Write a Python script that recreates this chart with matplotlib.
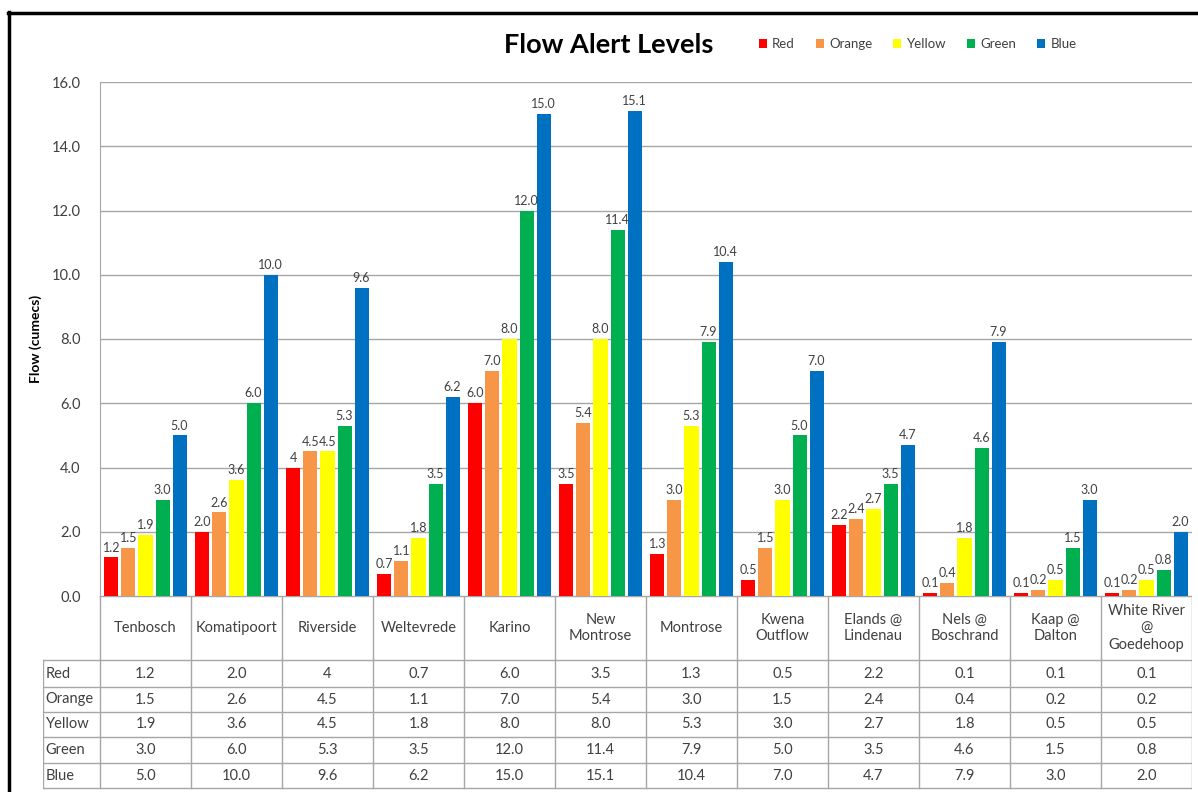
import matplotlib
matplotlib.use("Agg")
import matplotlib.pyplot as plt
from matplotlib.lines import Line2D
import numpy as np

plt.rcParams['font.family'] = ['Lato', 'DejaVu Sans']

# stations along the x axis
stations = ["Tenbosch", "Komatipoort", "Riverside", "Weltevrede", "Karino",
            "New\nMontrose", "Montrose", "Kwena\nOutflow", "Elands @\nLindenau",
            "Nels @\nBoschrand", "Kaap @\nDalton", "White River\n@\nGoedehoop"]

# alert thresholds as they appear in the data table (cumecs)
red = ["1.2", "2.0", "4", "0.7", "6.0", "3.5", "1.3", "0.5", "2.2", "0.1", "0.1", "0.1"]
orange = ["1.5", "2.6", "4.5", "1.1", "7.0", "5.4", "3.0", "1.5", "2.4", "0.4", "0.2", "0.2"]
yellow = ["1.9", "3.6", "4.5", "1.8", "8.0", "8.0", "5.3", "3.0", "2.7", "1.8", "0.5", "0.5"]
green = ["3.0", "6.0", "5.3", "3.5", "12.0", "11.4", "7.9", "5.0", "3.5", "4.6", "1.5", "0.8"]
blue = ["5.0", "10.0", "9.6", "6.2", "15.0", "15.1", "10.4", "7.0", "4.7", "7.9", "3.0", "2.0"]

series_names = ["Red", "Orange", "Yellow", "Green", "Blue"]
series_text = [red, orange, yellow, green, blue]
colors = ["#ff0000", "#f79646", "#ffff00", "#00b050", "#0070c0"]

W, H = 1198, 792
fig = plt.figure(figsize=(W / 100, H / 100), dpi=100)

grid_col = "#a6a6a6"
text_col = "#404040"

# main bar axes
ax = fig.add_axes([100 / W, 1 - 596 / H, 1092 / W, 514 / H])
x = np.arange(len(stations))
step = 0.187
width = 0.154
handles = []
for k, (name, txt, col) in enumerate(zip(series_names, series_text, colors)):
    vals = [float(s) for s in txt]
    pos = x + (k - 2) * step
    bars = ax.bar(pos, vals, width=width, color=col, label=name, zorder=3)
    handles.append(bars)
    for p, v, s in zip(pos, vals, txt):
        ax.text(p, v + 0.12, s, ha="center", va="bottom", fontsize=9,
                color=text_col, zorder=4)

ax.set_xlim(-0.5, len(stations) - 0.5)
ax.set_ylim(0, 16)
ax.set_yticks(np.arange(0, 17, 2))
ax.set_yticklabels([f"{t:.1f}" for t in np.arange(0, 17, 2)], fontsize=10.5, color=text_col)
ax.tick_params(axis="y", length=0, pad=14)
ax.set_xticks([])
ax.yaxis.grid(True, color=grid_col, lw=1, zorder=0)
for side in ["top", "right", "bottom"]:
    ax.spines[side].set_visible(False)
ax.spines["left"].set_color(grid_col)
ax.set_ylabel("Flow (cumecs)", fontsize=10, fontweight="bold", labelpad=7)

# data table below the axis, sharing the category positions
left_px = 43
tab = fig.add_axes([left_px / W, 1 - 790 / H, (1192 - left_px) / W, 194 / H])
tab.set_xlim(-0.5 - (100 - left_px) / 91, len(stations) - 0.5)
tab.set_ylim(194, 0)
tab.axis("off")
row_lines = [0, 64, 91, 116, 141, 167, 192]
edges = np.arange(len(stations) + 1) - 0.5
x0 = tab.get_xlim()[0]
tab.plot([edges[0], edges[-1]], [0, 0], color=grid_col, lw=1)
for y in row_lines[1:]:
    tab.plot([x0, edges[-1]], [y, y], color=grid_col, lw=1)
for e in edges:
    tab.plot([e, e], [0, row_lines[-1]], color=grid_col, lw=1)
tab.plot([x0, x0], [row_lines[1], row_lines[-1]], color=grid_col, lw=1)

for i, s in enumerate(stations):
    tab.text(i, 32, s, ha="center", va="center", fontsize=10.5, color=text_col,
             linespacing=1.25)
for r, (name, txt) in enumerate(zip(series_names, series_text)):
    yc = (row_lines[r + 1] + row_lines[r + 2]) / 2
    tab.text(x0 + 0.03, yc, name, ha="left", va="center", fontsize=10.5, color=text_col)
    for i, s in enumerate(txt):
        tab.text(i, yc, s, ha="center", va="center", fontsize=10.5, color=text_col)

# title and legend
fig.text(609 / W, 1 - 45 / H, "Flow Alert Levels", ha="center", va="center",
         fontsize=19.5, fontweight="bold", color="black")
fig.legend(handles=handles, labels=series_names, loc="center left",
           bbox_to_anchor=(747 / W, 1 - 44 / H), ncol=5, frameon=False,
           fontsize=9.5, handlelength=0.6, handleheight=0.6, handletextpad=0.4,
           columnspacing=1.6, labelcolor=text_col)

# outer frame (left and top edges)
fig.add_artist(Line2D([9 / W, 9 / W], [0, 1 - 12 / H], color="black", lw=2.5,
                      transform=fig.transFigure))
fig.add_artist(Line2D([8 / W, 1], [1 - 13 / H, 1 - 13 / H], color="black", lw=2.5,
                      transform=fig.transFigure))

fig.savefig("out.png", dpi=100, facecolor="white")
